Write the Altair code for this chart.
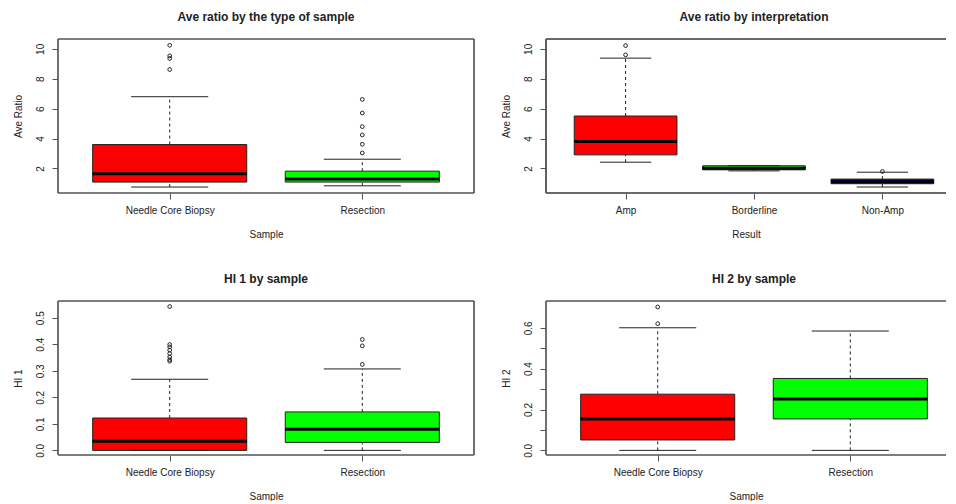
import json
import altair as alt
import pandas as pd

# ---------------- data ----------------
samples = ["Needle Core Biopsy", "Resection"]
results = ["Amp", "Borderline", "Non-Amp"]
two_colors = ["#ff0000", "#00ff00"]
three_colors = ["#ff0000", "#00ff00", "#0000ff"]

# Ave ratio by sample type
ave_q1 = [1.09, 1.09]
ave_med = [1.64, 1.29]
ave_q3 = [3.60, 1.82]
ave_lo = [0.76, 0.84]
ave_hi = [6.80, 2.62]
ave_out_ncb = [8.62, 9.36, 9.53, 10.24]
ave_out_res = [3.04, 3.62, 4.24, 4.80, 5.71, 6.62]

# Ave ratio by interpretation
int_q1 = [2.91, 1.91, 0.98]
int_med = [3.80, 2.02, 1.12]
int_q3 = [5.51, 2.18, 1.29]
int_lo = [2.42, 1.84, 0.76]
int_hi = [9.38, 2.20, 1.75]
int_out_amp = [9.60, 10.22]
int_out_border = []
int_out_non = [1.80]

# HI 1 by sample
hi1_q1 = [0.000, 0.030]
hi1_med = [0.034, 0.080]
hi1_q3 = [0.122, 0.145]
hi1_lo = [0.000, 0.000]
hi1_hi = [0.268, 0.307]
hi1_out_ncb = [0.336, 0.342, 0.352, 0.365, 0.378, 0.390, 0.399, 0.542]
hi1_out_res = [0.324, 0.394, 0.418]

# HI 2 by sample
hi2_q1 = [0.051, 0.154]
hi2_med = [0.154, 0.251]
hi2_q3 = [0.275, 0.352]
hi2_lo = [0.000, 0.000]
hi2_hi = [0.600, 0.584]
hi2_out_ncb = [0.620, 0.702]
hi2_out_res = []

FONT = "Liberation Sans"
LINE = "#222222"
FRAME = "#555555"
TEXT = "#222222"
W1 = 416
W2 = 400
H = 154


def panel(cats, colors, q1, med, q3, lo, hi, outs, ydom, yvals, ylabel_expr,
          title, xtitle, ytitle, width, xdom, right_border):
    n = len(cats)
    box = pd.DataFrame({
        "cat": cats, "idx": list(range(1, n + 1)), "q1": q1, "med": med,
        "q3": q3, "lo": lo, "hi": hi, "color": colors,
    })
    orows = []
    for i, vals in enumerate(outs):
        for v in vals:
            orows.append({"idx": i + 1, "value": v})
    odf = pd.DataFrame(orows, columns=["idx", "value"])

    xaxis = alt.Axis(
        values=list(range(1, n + 1)),
        labelExpr=f"{json.dumps(cats)}[datum.value - 1]",
        grid=False, domain=False, tickSize=6, tickColor=FRAME,
        labelFont=FONT, labelFontSize=10, labelColor=TEXT,
        labelBaseline="alphabetic", labelPadding=14.5,
        titleFont=FONT, titleFontSize=10, titleFontWeight="normal",
        titleColor=TEXT, titleBaseline="alphabetic", titleY=44,
    )
    yaxis = alt.Axis(
        values=yvals, labelExpr=ylabel_expr,
        grid=False, domain=False, tickSize=6, tickColor=FRAME,
        labelFont=FONT, labelFontSize=10, labelColor=TEXT,
        labelAngle=-90, labelAlign="center", labelBaseline="alphabetic",
        labelPadding=8.7,
        titleFont=FONT, titleFontSize=10, titleFontWeight="normal",
        titleColor=TEXT, titleBaseline="alphabetic", titleX=-36.7,
    )
    xscale = alt.Scale(domain=xdom, nice=False, zero=False)
    yscale = alt.Scale(domain=ydom, nice=False, zero=False)

    def X(field):
        return alt.X(field, type="quantitative", scale=xscale, axis=xaxis, title=xtitle)

    def Y(field):
        return alt.Y(field, type="quantitative", scale=yscale, axis=yaxis, title=ytitle)

    base = alt.Chart(box).transform_calculate(
        left="datum.idx - 0.4", right="datum.idx + 0.4",
        capl="datum.idx - 0.2", capr="datum.idx + 0.2",
    )
    whisk_up = base.mark_rule(color=LINE, strokeWidth=1, strokeDash=[3, 3]).encode(
        x=X("idx"), y=Y("q3"), y2="hi")
    whisk_lo = base.mark_rule(color=LINE, strokeWidth=1, strokeDash=[3, 3]).encode(
        x=X("idx"), y=Y("lo"), y2="q1")
    cap_up = base.mark_rule(color=LINE, strokeWidth=1).encode(
        x=X("capl"), x2="capr", y=Y("hi"))
    cap_lo = base.mark_rule(color=LINE, strokeWidth=1).encode(
        x=X("capl"), x2="capr", y=Y("lo"))
    rect = base.mark_rect(stroke=LINE, strokeWidth=1).encode(
        x=X("left"), x2="right", y=Y("q1"), y2="q3",
        fill=alt.Fill("color:N", scale=None))
    median = base.mark_rule(color="#000000", strokeWidth=3).encode(
        x=X("left"), x2="right", y=Y("med"))
    layers = [whisk_up, whisk_lo, cap_up, cap_lo, rect, median]
    if len(odf):
        pts = alt.Chart(odf).mark_point(
            shape="circle", filled=False, size=14, color=LINE, strokeWidth=1, opacity=1
        ).encode(x=X("idx"), y=Y("value"))
        layers.append(pts)

    frame = alt.Chart(box)
    top = frame.mark_rule(color=FRAME, strokeWidth=1.2).encode(
        x=alt.value(0), x2=alt.value(width), y=alt.value(0))
    bottom = frame.mark_rule(color=FRAME, strokeWidth=1.2).encode(
        x=alt.value(0), x2=alt.value(width), y=alt.value(H))
    leftb = frame.mark_rule(color=FRAME, strokeWidth=1.2).encode(
        x=alt.value(0), y=alt.value(0), y2=alt.value(H))
    layers += [top, bottom, leftb]
    if right_border:
        rightb = frame.mark_rule(color=FRAME, strokeWidth=1.2).encode(
            x=alt.value(width), y=alt.value(0), y2=alt.value(H))
        layers.append(rightb)

    dx = 0 if right_border else 8
    return alt.layer(*layers).properties(
        width=width, height=H,
        title=alt.TitleParams(
            title, font=FONT, fontSize=12, fontWeight="bold", color=TEXT,
            anchor="middle", frame="group", baseline="alphabetic", offset=5, dx=dx,
        ),
    )


p1 = panel(samples, two_colors, ave_q1, ave_med, ave_q3, ave_lo, ave_hi,
           [ave_out_ncb, ave_out_res], [0.36, 10.66], [2, 4, 6, 8, 10],
           "format(datum.value, 'd')",
           "Ave ratio by the type of sample", "Sample", "Ave Ratio",
           W1, [0.42, 2.58], True)
p2 = panel(results, three_colors, int_q1, int_med, int_q3, int_lo, int_hi,
           [int_out_amp, int_out_border, int_out_non], [0.36, 10.66], [2, 4, 6, 8, 10],
           "format(datum.value, 'd')",
           "Ave ratio by interpretation", "Result", "Ave Ratio",
           W2, [0.38, 0.38 + W2 / (W1 / 3.24)], False)
p3 = panel(samples, two_colors, hi1_q1, hi1_med, hi1_q3, hi1_lo, hi1_hi,
           [hi1_out_ncb, hi1_out_res], [-0.0174, 0.563], [0, 0.1, 0.2, 0.3, 0.4, 0.5],
           "format(datum.value, '.1f')",
           "HI 1 by sample", "Sample", "HI 1",
           W1, [0.42, 2.58], True)
p4 = panel(samples, two_colors, hi2_q1, hi2_med, hi2_q3, hi2_lo, hi2_hi,
           [hi2_out_ncb, hi2_out_res], [-0.0226, 0.731], [0, 0.1, 0.2, 0.3, 0.4, 0.5, 0.6],
           "round(datum.value * 10) % 2 == 0 ? format(datum.value, '.1f') : ''",
           "HI 2 by sample", "Sample", "HI 2",
           W2, [0.42, 0.42 + W2 / (W1 / 2.16)], False)

chart = alt.concat(p1, p2, p3, p4, columns=2, spacing={"row": 108, "column": 72}).properties(
    bounds="flush",
    padding={"left": 5, "top": 3, "right": 0, "bottom": 0},
    background="white",
).configure_view(stroke=None)

chart.save("out.html", embed_options={"renderer": "svg", "actions": False})
